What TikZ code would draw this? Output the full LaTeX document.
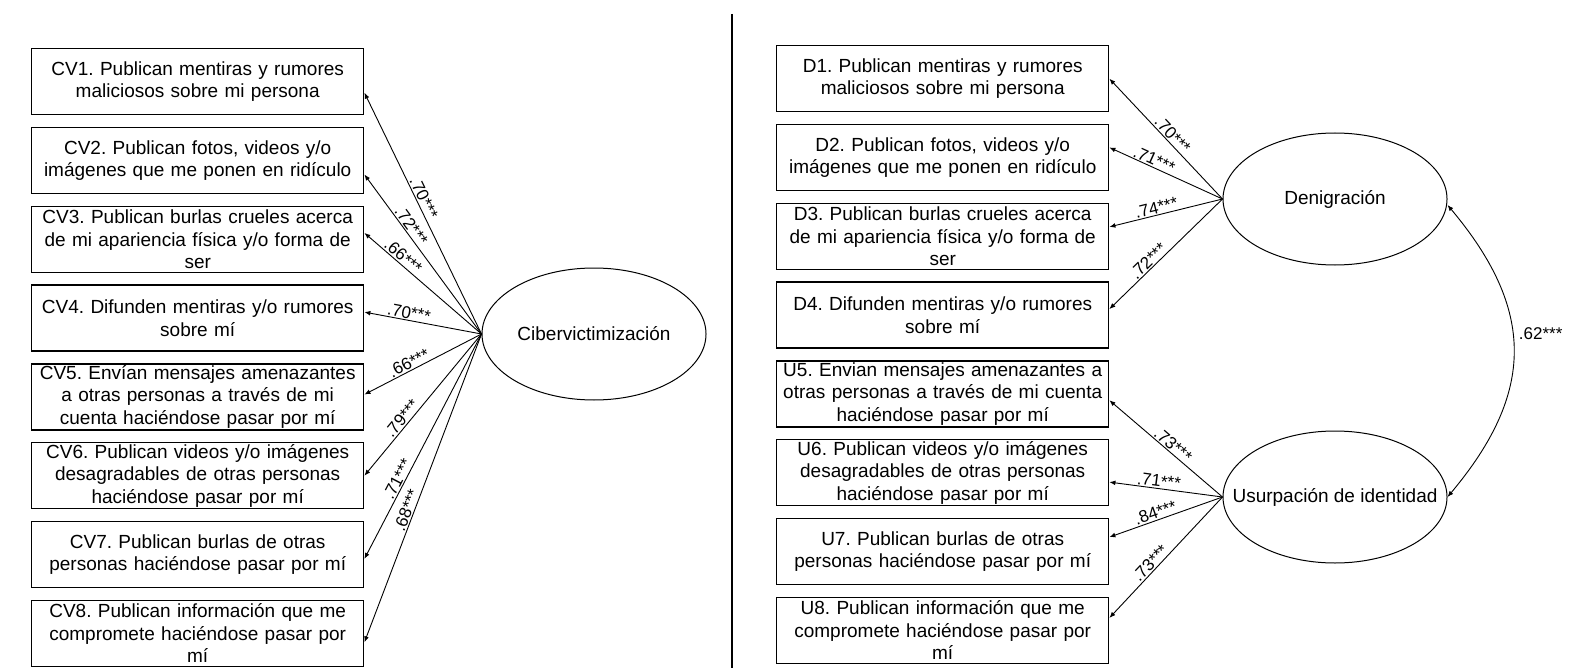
\documentclass[tikz,border=0pt]{standalone}
\usepackage{fontspec}
\setmainfont{Liberation Sans}
\usetikzlibrary{arrows.meta,positioning,shapes.geometric}
\frenchspacing

\begin{document}
\begin{tikzpicture}[x=0.5pt, y=0.5pt,
  font=\fontsize{9.5}{11.2}\selectfont,
  node distance=5.7pt,
  item/.style={rectangle, draw, line width=0.7pt, minimum width=166pt,
               minimum height=33pt, text width=162pt, align=center,
               inner xsep=2pt, inner ysep=0pt},
  factor/.style={ellipse, draw, line width=0.5pt, minimum width=112pt,
                 minimum height=66pt, inner sep=0pt},
  ar/.style={-{Latex[length=3pt,width=2.4pt]}, line width=0.45pt},
  corr/.style={{Latex[length=3pt,width=2.4pt]}-{Latex[length=3pt,width=2.4pt]}, line width=0.45pt},
  coef/.style={font=\fontsize{8.5}{9}\selectfont, sloped, above, inner sep=0.6pt}]

  \useasboundingbox (0,0) rectangle (1577,-668);

  % left model
  \node[item, anchor=north west] (cv1) at (31,-48) {CV1. Publican mentiras y rumores\\maliciosos sobre mi persona};
  \node[item, below=of cv1] (cv2) {CV2. Publican fotos, videos y/o\\imágenes que me ponen en ridículo};
  \node[item, below=of cv2] (cv3) {CV3. Publican burlas crueles acerca\\de mi apariencia física y/o forma de\\ser};
  \node[item, below=of cv3] (cv4) {CV4. Difunden mentiras y/o rumores\\sobre mí};
  \node[item, below=of cv4] (cv5) {CV5. Envían mensajes amenazantes\\a otras personas a través de mi\\cuenta haciéndose pasar por mí};
  \node[item, below=of cv5] (cv6) {CV6. Publican videos y/o imágenes\\desagradables de otras personas\\haciéndose pasar por mí};
  \node[item, below=of cv6] (cv7) {CV7. Publican burlas de otras\\personas haciéndose pasar por mí};
  \node[item, below=of cv7] (cv8) {CV8. Publican información que me\\compromete haciéndose pasar por\\mí};
  \node[factor, label=center:Cibervictimización] (cib) at (594,-334) {};

  \draw[ar] (cib.west) -- node[coef, pos=.55] {.70***} ([yshift=-5.5pt]cv1.east);
  \draw[ar] (cib.west) -- node[coef, pos=.65] {.72***} ([yshift=-7pt]cv2.east);
  \draw[ar] (cib.west) -- node[coef, pos=.71] {.66***} ([yshift=3.2pt]cv3.east);
  \draw[ar] (cib.west) -- node[coef, pos=.63] {.70***} ([yshift=3pt]cv4.east);
  \draw[ar] (cib.west) -- node[coef, pos=.59] {.66***} ([yshift=1.2pt]cv5.east);
  \draw[ar] (cib.west) -- node[coef, pos=.63] {.79***} (cv6.east);
  \draw[ar] (cib.west) -- node[coef, pos=.66] {.71***} ([yshift=-2.2pt]cv7.east);
  \draw[ar] (cib.west) -- node[coef, pos=.58] {.68***} ([yshift=-4.5pt]cv8.east);

  \draw[line width=0.8pt] (732,-14) -- (732,-668);

  % right model
  \node[item, anchor=north west] (d1) at (776,-45) {D1. Publican mentiras y rumores\\maliciosos sobre mi persona};
  \node[item, below=of d1] (d2) {D2. Publican fotos, videos y/o\\imágenes que me ponen en ridículo};
  \node[item, below=of d2] (d3) {D3. Publican burlas crueles acerca\\de mi apariencia física y/o forma de\\ser};
  \node[item, below=of d3] (d4) {D4. Difunden mentiras y/o rumores\\sobre mí};
  \node[item, below=of d4] (u5) {U5. Envian mensajes amenazantes a\\otras personas a través de mi cuenta\\haciéndose pasar por mí};
  \node[item, below=of u5] (u6) {U6. Publican videos y/o imágenes\\desagradables de otras personas\\haciéndose pasar por mí};
  \node[item, below=of u6] (u7) {U7. Publican burlas de otras\\personas haciéndose pasar por mí};
  \node[item, below=of u7] (u8) {U8. Publican información que me\\compromete haciéndose pasar por\\mí};
  \node[factor, label=center:Denigración] (den) at (1335,-199) {};
  \node[factor, label=center:Usurpación de identidad] (usu) at (1335,-497) {};

  \draw[ar] (den.west) -- node[coef, pos=.49] {.70***} (d1.east);
  \draw[ar] (den.west) -- node[coef, pos=.63] {.71***} ([yshift=5pt]d2.east);
  \draw[ar] (den.west) -- node[coef, pos=.57] {.74***} ([yshift=4.7pt]d3.east);
  \draw[ar] (den.west) -- node[coef, pos=.61] {.72***} ([yshift=3pt]d4.east);
  \draw[ar] (usu.west) -- node[coef, pos=.48] {.73***} ([yshift=-3.2pt]u5.east);
  \draw[ar] (usu.west) -- node[coef, pos=.57] {.71***} ([yshift=-4.7pt]u6.east);
  \draw[ar] (usu.west) -- node[coef, pos=.57] {.84***} ([yshift=7.2pt]u7.east);
  \draw[ar] (usu.west) -- node[coef, pos=.59] {.73***} ([yshift=6.2pt]u8.east);

  \draw[corr] ([yshift=-3pt]den.east) to[out=-50, in=50, looseness=1.2]
    node[pos=.44, right, font=\fontsize{8.5}{9}\selectfont, inner sep=3pt] {.62***} (usu.east);
\end{tikzpicture}
\end{document}
